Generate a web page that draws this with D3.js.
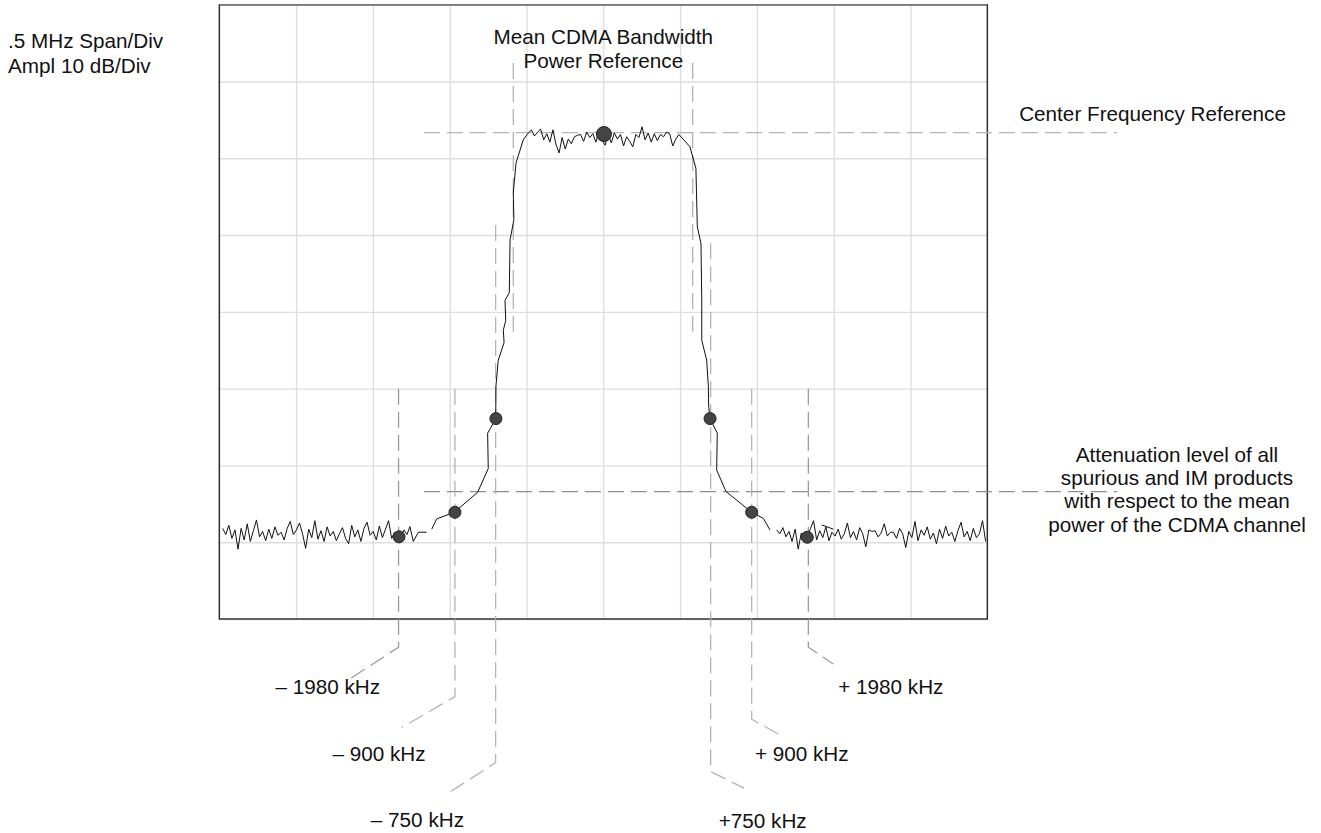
<!DOCTYPE html>
<html>
<head>
<meta charset="utf-8">
<script src="https://cdn.jsdelivr.net/npm/d3@7/dist/d3.min.js"></script>
<style>
  html, body { margin: 0; padding: 0; background: #fff; }
  svg { display: block; font-family: "Liberation Sans", Arial, sans-serif; }
  .lbl { font-size: 20.7px; fill: #111; }
</style>
</head>
<body>
<svg id="chart" width="1321" height="833"></svg>
<script>
// Config
const W = 1321, H = 833;
const BOX = { left: 219.3, right: 987.3, top: 4.7, bottom: 619 };

// Data (frequency offset in MHz, level in dB)
const SPAN = [-2.5, 2.5];
const LEVELS = [-80, 0];
const FREQ_TICKS = d3.range(-2.5, 2.51, 0.5);
const DB_TICKS = d3.range(-80, 1, 10);

const SAMPLE_STEP = 0.02;

const leftNoiseStart = -2.478;
const leftNoise = [
  -68.2, -69.0, -67.8, -69.5, -68.4, -70.9, -68.2, -69.7, -67.6, -69.9,
  -68.5, -67.1, -69.3, -68.6, -69.8, -68.3, -69.5, -68.0, -69.1, -68.7,
  -69.7, -68.2, -67.3, -69.0, -68.4, -67.5, -68.9, -70.8, -68.3, -69.4,
  -67.2, -69.6, -68.5, -69.9, -68.0, -69.2, -68.6, -69.8, -68.9, -68.1,
  -69.5, -70.2, -67.8, -69.3, -68.4, -69.9, -68.2, -67.4, -69.1, -68.6,
  -69.7, -67.9, -69.4, -68.3, -67.2, -69.5, -68.7, -69.2, -69.3, -68.4, -69.0
];
const leftTailF = [-1.259, -1.237, -1.204, -1.150];
const leftTailDb = [-67.97, -69.9, -68.7, -68.7];

const leftSkirtF = [-1.117, -1.085, -0.970, -0.818, -0.749, -0.753, -0.699, -0.700, -0.699, -0.684,
  -0.646, -0.651, -0.635, -0.640, -0.612, -0.607, -0.582, -0.586, -0.568, -0.521];
const leftSkirtDb = [-68.3, -66.97, -66.1, -63.5, -60.4, -55.8, -53.9, -53.2, -49.7, -46.3,
  -44.0, -42.4, -41.1, -38.5, -37.5, -30.6, -28.0, -24.5, -20.6, -17.6];

const topStart = -0.488;
const topLevel = [
  -16.7, -16.3, -17.1, -16.6, -16.2, -17.6, -16.8, -17.9, -16.3, -18.2,
  -19.3, -17.3, -18.8, -17.5, -18.1, -17.2, -17.0, -16.9, -17.8, -16.6,
  -17.3, -16.8, -17.9, -16.5, -17.6, -18.3, -16.9, -18.0, -16.7, -17.5,
  -16.9, -18.4, -17.2, -17.8, -18.5, -16.9, -17.3, -15.9, -17.6, -16.7,
  -17.9, -16.8, -17.7, -16.9, -17.2, -16.6, -16.8, -18.4, -17.5, -16.9
];

const rightSkirtF = [0.564, 0.603, 0.612, 0.636, 0.641, 0.641, 0.673, 0.684, 0.686, 0.695,
  0.742, 0.738, 0.799, 0.966, 1.042, 1.085];
const rightSkirtDb = [-18.5, -21.3, -28.9, -31.1, -38.5, -43.7, -46.3, -49.7, -52.3, -53.9,
  -55.8, -60.6, -63.4, -66.1, -66.9, -68.4];

const rightNoiseStart = 1.129;
const rightNoise = [
  -68.4, -68.9, -68.1, -69.3, -68.6, -69.9, -68.3, -70.9, -68.8, -69.6,
  -69.3, -68.2, -67.2, -69.7, -68.5, -69.4, -68.0, -69.8, -68.7, -69.2,
  -68.3, -69.6, -68.9, -67.5, -69.4, -68.6, -69.7, -68.1, -68.9, -70.6,
  -68.4, -68.6, -68.5, -69.3, -68.8, -67.6, -69.2, -68.7, -68.7, -69.5,
  -68.2, -68.9, -70.7, -68.6, -69.4, -67.3, -69.8, -68.4, -69.1, -68.0,
  -69.6, -68.8, -70.2, -68.3, -69.5, -67.9, -69.2, -68.7, -69.9, -68.5,
  -67.4, -69.3, -68.6, -69.8, -68.2, -69.4, -68.9, -67.2, -69.9
];
const strayF = [1.422, 1.498];
const strayDb = [-67.75, -68.3];

// marker dots on the trace
const markerF = [-1.330, -0.966, -0.699, 0.004, 0.695, 0.966, 1.328];
const markerDb = [-69.3, -66.1, -53.9, -16.84, -53.9, -66.1, -69.35];
const centerMarker = 3;

// offset labels and leader lines
const offsetLabels = ["\u2013 1980 kHz", "\u2013 900 kHz", "\u2013 750 kHz", "+ 1980 kHz", "+ 900 kHz", "+750 kHz"];
const offsetF = [-1.333, -0.966, -0.701, 1.335, 0.966, 0.699];
const offsetTopDb = [-50, -50, -28.7, -50, -50, -31.05];
const offsetBendDb = [-83.67, -90.1, -98.7, -83.67, -93.05, -99.87];
const offsetEndF = [-1.649, -1.3125, -1.0195, 1.497, 1.168, 0.916];
const offsetEndDb = [-87.8, -94.14, -102.8, -85.85, -95.3, -102.03];
const offsetLabelF = [-1.794, -1.460, -1.210, 1.872, 1.292, 1.038];
const offsetLabelDb = [-89.75, -98.5, -107.07, -89.75, -98.5, -107.2];

// mean bandwidth markers & references
const bwF = [-0.586, 0.582];
const bwDb = [-7.6, -42.6];
const refSpanF = [-1.168, 3.344];
const centerRefDb = -16.67;
const attenRefDb = -63.4;

const infoLines = [".5 MHz Span/Div", "Ampl 10 dB/Div"];
const bwTitle = ["Mean CDMA Bandwidth", "Power Reference"];
const bwTitleF = 0.0;
const bwTitleDb = [-5.12, -8.24];
const centerRefText = "Center Frequency Reference";
const centerRefTextF = 3.576, centerRefTextDb = -15.14;
const attenText = ["Attenuation level of all", "spurious and IM products", "with respect to the mean", "power of the CDMA channel"];
const attenTextF = 3.735;
const attenTextDb = [-59.5, -62.55, -65.58, -68.63];

// Scales
const x = d3.scaleLinear().domain(SPAN).range([BOX.left, BOX.right]);
const y = d3.scaleLinear().domain(LEVELS).range([BOX.bottom, BOX.top]);

const svg = d3.select("#chart").attr("viewBox", `0 0 ${W} ${H}`);

// Grid
svg.append("g")
  .attr("transform", `translate(0,${BOX.bottom})`)
  .call(d3.axisBottom(x).tickValues(FREQ_TICKS).tickSize(-(BOX.bottom - BOX.top)).tickFormat(""))
  .call(g => g.select(".domain").remove())
  .call(g => g.selectAll("line").attr("stroke", "#dedede").attr("stroke-width", 1.4));

svg.append("g")
  .attr("transform", `translate(${BOX.left},0)`)
  .call(d3.axisLeft(y).tickValues(DB_TICKS).tickSize(-(BOX.right - BOX.left)).tickFormat(""))
  .call(g => g.select(".domain").remove())
  .call(g => g.selectAll("line").attr("stroke", "#dedede").attr("stroke-width", 1.4));

// Frame
svg.append("rect")
  .attr("x", x(SPAN[0])).attr("y", y(LEVELS[1]))
  .attr("width", x(SPAN[1]) - x(SPAN[0]))
  .attr("height", y(LEVELS[0]) - y(LEVELS[1]))
  .attr("fill", "none").attr("stroke", "#2a2a2a").attr("stroke-width", 1.4);
svg.append("line")
  .attr("x1", x(SPAN[0])).attr("x2", x(SPAN[1]))
  .attr("y1", y(LEVELS[1])).attr("y2", y(LEVELS[1]))
  .attr("stroke", "#7a7a7a").attr("stroke-width", 1.6);

// Build trace
const trace = [];
leftNoise.forEach((v, i) => trace.push({ f: leftNoiseStart + i * SAMPLE_STEP, db: v }));
leftTailF.forEach((f, i) => trace.push({ f, db: leftTailDb[i] }));
trace.push(null);
leftSkirtF.forEach((f, i) => trace.push({ f, db: leftSkirtDb[i] }));
topLevel.forEach((v, i) => trace.push({ f: topStart + i * SAMPLE_STEP, db: v }));
rightSkirtF.forEach((f, i) => trace.push({ f, db: rightSkirtDb[i] }));
trace.push(null);
rightNoise.forEach((v, i) => trace.push({ f: rightNoiseStart + i * SAMPLE_STEP, db: v }));

const line = d3.line()
  .defined(d => d !== null)
  .x(d => x(d.f))
  .y(d => y(d.db));

const dashed = (sel, color) => sel
  .attr("fill", "none").attr("stroke", color)
  .attr("stroke-width", 1.3).attr("stroke-dasharray", "16,7");

// Reference dashed lines
svg.append("path")
  .attr("d", line([{ f: refSpanF[0], db: centerRefDb }, { f: refSpanF[1], db: centerRefDb }]))
  .call(dashed, "#b4b4b4");
svg.append("path")
  .attr("d", line([{ f: refSpanF[0], db: attenRefDb }, { f: refSpanF[1], db: attenRefDb }]))
  .call(dashed, "#8e8e8e");

bwF.forEach(f => {
  svg.append("path")
    .attr("d", line([{ f, db: bwDb[0] }, { f, db: bwDb[1] }]))
    .call(dashed, "#b4b4b4");
});

// Leader lines
offsetLabels.forEach((t, i) => {
  const outer = i === 0 || i === 3;
  svg.append("path")
    .attr("d", line([
      { f: offsetF[i], db: offsetTopDb[i] },
      { f: offsetF[i], db: offsetBendDb[i] },
      { f: offsetEndF[i], db: offsetEndDb[i] }
    ]))
    .call(dashed, outer ? "#9a9a9a" : "#b4b4b4");
  svg.append("text").attr("class", "lbl")
    .attr("x", x(offsetLabelF[i])).attr("y", y(offsetLabelDb[i]))
    .attr("text-anchor", "middle").text(t);
});

// Trace
svg.append("path")
  .attr("d", line(trace))
  .attr("fill", "none").attr("stroke", "#111").attr("stroke-width", 1)
  .attr("stroke-linejoin", "miter");
svg.append("path")
  .attr("d", line(strayF.map((f, i) => ({ f, db: strayDb[i] }))))
  .attr("fill", "none").attr("stroke", "#111").attr("stroke-width", 1);

// Markers
svg.append("g").selectAll("circle")
  .data(markerF.map((f, i) => ({ f, db: markerDb[i], big: i === centerMarker })))
  .join("circle")
  .attr("cx", d => x(d.f)).attr("cy", d => y(d.db))
  .attr("r", d => d.big ? 7.5 : 6)
  .attr("fill", "#444").attr("stroke", "#222").attr("stroke-width", 1);

// Texts
const info = svg.append("text").attr("class", "lbl").attr("x", 8).attr("y", 48.3);
infoLines.forEach((t, i) => info.append("tspan").attr("x", 8).attr("dy", i ? 25 : 0).text(t));

bwTitle.forEach((t, i) => {
  svg.append("text").attr("class", "lbl")
    .attr("x", x(bwTitleF)).attr("y", y(bwTitleDb[i]))
    .attr("text-anchor", "middle").text(t);
});

svg.append("text").attr("class", "lbl")
  .attr("x", x(centerRefTextF)).attr("y", y(centerRefTextDb))
  .attr("text-anchor", "middle").text(centerRefText);

attenText.forEach((t, i) => {
  svg.append("text").attr("class", "lbl")
    .attr("x", x(attenTextF)).attr("y", y(attenTextDb[i]))
    .attr("text-anchor", "middle").text(t);
});
</script>
</body>
</html>
